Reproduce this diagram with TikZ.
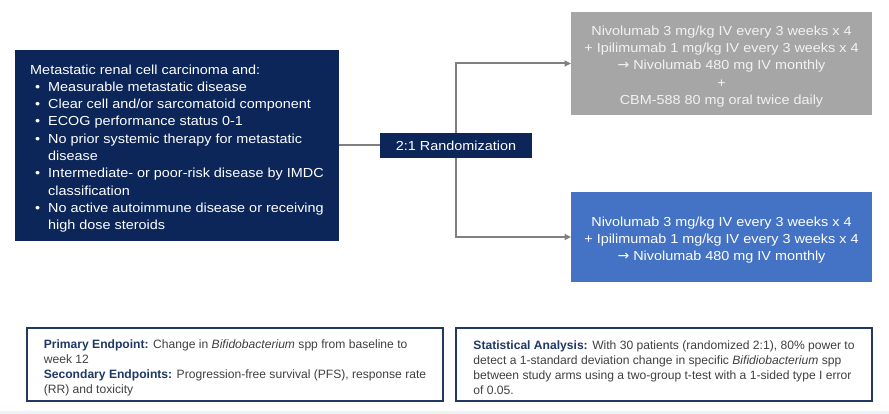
\documentclass[tikz,border=0pt]{standalone}
\usepackage{fontspec}
\setmainfont{Liberation Sans}
\newfontfamily\widesans{Liberation Sans}[FakeStretch=1.1]
\newfontfamily\arrowfont{DejaVu Sans}
\usetikzlibrary{arrows.meta}
\definecolor{navy}{HTML}{0C2659}
\definecolor{armgray}{HTML}{A6A6A6}
\definecolor{armblue}{HTML}{4472C4}
\definecolor{framenavy}{HTML}{1F3864}
\definecolor{linegray}{HTML}{808080}
\definecolor{bodygray}{HTML}{404040}
\definecolor{paletext}{HTML}{F2F2F2}
\definecolor{stripcol}{HTML}{EDF3F4}
\newcommand\blt{\makebox[18pt][l]{\hspace{5pt}•}}
\newcommand\cnt{\makebox[18pt][l]{}}
\newcommand\lbl[1]{{\color{framenavy}\bfseries #1}}
\newcommand\topstrut{\rule{0pt}{15.5pt}}
\newcommand\arw{{\arrowfont\fontsize{14}{17.3}\selectfont →}}
\begin{document}
\begin{tikzpicture}[x=1pt,y=-1pt,
  basebox/.style={rectangle, inner sep=0pt, outer sep=0pt, anchor=north west},
  bigfont/.style={font=\widesans\fontsize{13.1}{17.3}\selectfont},
  smallfont/.style={font=\fontsize{12.1}{15}\selectfont},
  navybox/.style={basebox, fill=navy, text=white, bigfont},
  armbox/.style={basebox, minimum width=301, align=center, text=paletext, bigfont},
  framebox/.style={basebox, draw=framenavy, line width=2.2pt, fill=white, text=bodygray,
    minimum width=416, minimum height=73, align=left, smallfont},
  conn/.style={draw=linegray, line width=2pt},
  arr/.style={conn, -{Triangle[length=6.5pt,width=6pt]}}
]
\useasboundingbox (0,0) rectangle (889,414);
\fill[white] (0,0) rectangle (889,414);
\fill[stripcol] (0,411) rectangle (889,414);

\node[navybox, minimum width=324, minimum height=191, align=left] (elig) at (15,50) {%
\topstrut Metastatic renal cell carcinoma and:\\
\blt Measurable metastatic disease\\
\blt Clear cell and/or sarcomatoid component\\
\blt ECOG performance status 0-1\\
\blt No prior systemic therapy for metastatic\\
\cnt disease\\
\blt Intermediate- or poor-risk disease by IMDC\\
\cnt classification\\
\blt No active autoimmune disease or receiving\\
\cnt high dose steroids};

\node[navybox, minimum width=152, minimum height=25] (rand) at (380,133) {2:1 Randomization};

\node[armbox, fill=armgray, minimum height=103] (armA) at (571,12) {%
\topstrut Nivolumab 3 mg/kg IV every 3 weeks x 4\\
+ Ipilimumab 1 mg/kg IV every 3 weeks x 4\\
\arw{} Nivolumab 480 mg IV monthly\\
+\\
CBM-588 80 mg oral twice daily};

\node[armbox, fill=armblue, text=white, minimum height=90] (armB) at (571,192) {%
\topstrut Nivolumab 3 mg/kg IV every 3 weeks x 4\\
+ Ipilimumab 1 mg/kg IV every 3 weeks x 4\\
\arw{} Nivolumab 480 mg IV monthly};

\draw[conn] (rand.west -| elig.east) -- (rand.west);
\draw[arr] (rand.north) |- (armA.west);
\draw[arr] (rand.south) |- (armB.west);

\node[framebox] (endp) at (27,328) {%
\topstrut\lbl{Primary Endpoint:} Change in \textit{Bifidobacterium} spp from baseline to\\
week 12\\
\lbl{Secondary Endpoints:} Progression-free survival (PFS), response rate\\
(RR) and toxicity};

\node[framebox] (stats) at (456,328) {%
\topstrut\lbl{Statistical Analysis:} With 30 patients (randomized 2:1), 80\% power to\\
detect a 1-standard deviation change in specific \textit{Bifidiobacterium} spp\\
between study arms using a two-group t-test with a 1-sided type I error\\
of 0.05.};
\end{tikzpicture}
\end{document}
